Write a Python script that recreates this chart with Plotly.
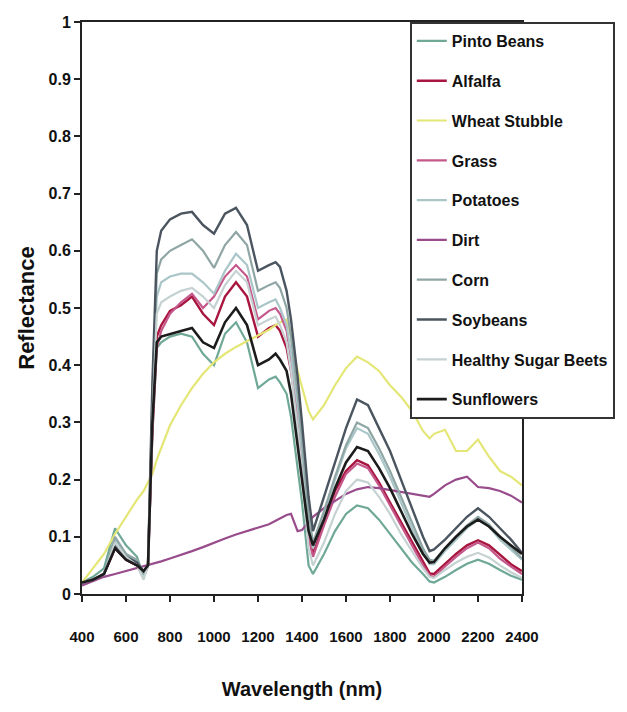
import plotly.graph_objects as go

wavelength = [400, 450, 500, 550, 600, 650, 680, 700, 720, 740, 760, 800, 850, 900, 950, 1000,
              1050, 1100, 1150, 1200, 1250, 1280, 1300, 1330, 1350, 1380, 1400, 1430, 1450, 1500,
              1550, 1600, 1650, 1700, 1750, 1800, 1850, 1900, 1950, 1980, 2000, 2050, 2100, 2150,
              2200, 2250, 2300, 2350, 2400]

pinto_beans = [0.02, 0.03, 0.045, 0.115, 0.085, 0.065, 0.03, 0.05, 0.28, 0.43, 0.44,
               0.45, 0.455, 0.45, 0.42, 0.40, 0.455, 0.475, 0.44, 0.36, 0.375,
               0.38, 0.37, 0.35, 0.31, 0.22, 0.16, 0.05, 0.035, 0.07, 0.11,
               0.14, 0.155, 0.15, 0.13, 0.105, 0.08, 0.055, 0.035, 0.022, 0.02,
               0.03, 0.042, 0.053, 0.06, 0.053, 0.042, 0.032, 0.025]
alfalfa = [0.02, 0.025, 0.035, 0.08, 0.06, 0.05, 0.03, 0.05, 0.3, 0.45, 0.47,
           0.495, 0.505, 0.52, 0.49, 0.47, 0.52, 0.545, 0.52, 0.45, 0.465,
           0.47, 0.46, 0.43, 0.39, 0.31, 0.24, 0.1, 0.07, 0.125, 0.18,
           0.215, 0.234, 0.225, 0.195, 0.16, 0.125, 0.09, 0.055, 0.036, 0.035,
           0.052, 0.07, 0.085, 0.094, 0.085, 0.068, 0.052, 0.04]
wheat_stubble = [0.02, 0.045, 0.07, 0.105, 0.135, 0.165, 0.18, 0.195, 0.21, 0.235, 0.255,
                 0.295, 0.33, 0.36, 0.385, 0.405, 0.42, 0.432, 0.442, 0.452, 0.462,
                 0.47, 0.475, 0.48, 0.45, 0.39, 0.36, 0.32, 0.305, 0.33, 0.365,
                 0.395, 0.415, 0.405, 0.39, 0.365, 0.345, 0.32, 0.285, 0.272, 0.28,
                 0.287, 0.25, 0.25, 0.27, 0.24, 0.215, 0.205, 0.19]
grass = [0.02, 0.025, 0.035, 0.08, 0.06, 0.05, 0.03, 0.05, 0.28, 0.43, 0.46,
         0.49, 0.51, 0.525, 0.50, 0.52, 0.555, 0.575, 0.555, 0.48, 0.495,
         0.50, 0.49, 0.46, 0.41, 0.32, 0.24, 0.1, 0.065, 0.12, 0.17,
         0.21, 0.228, 0.22, 0.19, 0.155, 0.12, 0.085, 0.05, 0.032, 0.03,
         0.048, 0.065, 0.08, 0.09, 0.08, 0.062, 0.048, 0.035]
potatoes = [0.02, 0.025, 0.035, 0.095, 0.07, 0.055, 0.03, 0.05, 0.33, 0.52, 0.545,
            0.555, 0.56, 0.56, 0.545, 0.525, 0.565, 0.595, 0.575, 0.5, 0.51,
            0.515, 0.5, 0.47, 0.42, 0.33, 0.25, 0.12, 0.08, 0.14, 0.2,
            0.255, 0.29, 0.28, 0.245, 0.205, 0.16, 0.115, 0.075, 0.052, 0.052,
            0.075, 0.095, 0.115, 0.13, 0.118, 0.095, 0.077, 0.06]
dirt = [0.015, 0.022, 0.03, 0.035, 0.04, 0.045, 0.048, 0.05, 0.052, 0.055, 0.057,
        0.062, 0.068, 0.075, 0.082, 0.09, 0.097, 0.104, 0.11, 0.116, 0.122,
        0.128, 0.132, 0.138, 0.14, 0.11, 0.112, 0.125, 0.135, 0.15, 0.162,
        0.175, 0.183, 0.187, 0.185, 0.182, 0.179, 0.176, 0.172, 0.17, 0.175,
        0.19, 0.2, 0.205, 0.187, 0.185, 0.18, 0.172, 0.16]
corn = [0.02, 0.025, 0.035, 0.1, 0.07, 0.06, 0.035, 0.05, 0.35, 0.56, 0.585,
        0.60, 0.61, 0.62, 0.60, 0.57, 0.61, 0.633, 0.61, 0.53, 0.54,
        0.545, 0.535, 0.50, 0.45, 0.35, 0.27, 0.14, 0.09, 0.145, 0.205,
        0.26, 0.30, 0.29, 0.255, 0.215, 0.17, 0.125, 0.08, 0.06, 0.058,
        0.08, 0.1, 0.12, 0.135, 0.122, 0.1, 0.082, 0.062]
soybeans = [0.02, 0.025, 0.035, 0.085, 0.065, 0.055, 0.04, 0.05, 0.37, 0.60, 0.635,
            0.655, 0.665, 0.668, 0.645, 0.63, 0.665, 0.675, 0.645, 0.565, 0.575,
            0.58, 0.572, 0.53, 0.48, 0.38, 0.30, 0.17, 0.11, 0.17, 0.23,
            0.29, 0.34, 0.33, 0.29, 0.25, 0.20, 0.15, 0.10, 0.075, 0.078,
            0.095, 0.115, 0.135, 0.15, 0.135, 0.115, 0.095, 0.072]
healthy_sugar_beets = [0.02, 0.025, 0.035, 0.09, 0.065, 0.05, 0.025, 0.05, 0.31, 0.49, 0.51,
                       0.52, 0.53, 0.535, 0.52, 0.5, 0.54, 0.565, 0.545, 0.47, 0.48,
                       0.485, 0.47, 0.44, 0.39, 0.29, 0.21, 0.08, 0.05, 0.09, 0.14,
                       0.18, 0.2, 0.195, 0.17, 0.14, 0.105, 0.075, 0.045, 0.03, 0.028,
                       0.042, 0.055, 0.065, 0.072, 0.064, 0.05, 0.038, 0.028]
sunflowers = [0.02, 0.025, 0.035, 0.08, 0.06, 0.05, 0.04, 0.05, 0.3, 0.44, 0.45,
              0.455, 0.46, 0.465, 0.44, 0.43, 0.475, 0.50, 0.47, 0.40, 0.41,
              0.42, 0.41, 0.39, 0.35, 0.26, 0.2, 0.11, 0.085, 0.13, 0.185,
              0.23, 0.257, 0.25, 0.22, 0.185, 0.145, 0.105, 0.07, 0.055, 0.056,
              0.08, 0.1, 0.118, 0.13, 0.118, 0.1, 0.085, 0.07]

series_names = ["Pinto Beans", "Alfalfa", "Wheat Stubble", "Grass", "Potatoes",
                "Dirt", "Corn", "Soybeans", "Healthy Sugar Beets", "Sunflowers"]
series_values = [pinto_beans, alfalfa, wheat_stubble, grass, potatoes,
                 dirt, corn, soybeans, healthy_sugar_beets, sunflowers]
series_colors = ["#6fa897", "#a8163f", "#e4e676", "#c4588a", "#aac6c8",
                 "#984c8c", "#8fa6a5", "#4b5560", "#c6d2d2", "#1c1c1c"]
series_widths = [2.2, 2.4, 2.2, 2.2, 2.2, 2.2, 2.2, 2.4, 2.2, 2.6]

x_tick_vals = [400, 600, 800, 1000, 1200, 1400, 1600, 1800, 2000, 2200, 2400]
y_tick_vals = [0, 0.1, 0.2, 0.3, 0.4, 0.5, 0.6, 0.7, 0.8, 0.9, 1]
y_tick_text = ["0", "0.1", "0.2", "0.3", "0.4", "0.5", "0.6", "0.7", "0.8", "0.9", "1"]

FONT = "Liberation Sans, Arial, sans-serif"

fig = go.Figure()
for name, vals, col, w in zip(series_names, series_values, series_colors, series_widths):
    fig.add_trace(go.Scatter(x=wavelength, y=vals, mode="lines", name=name,
                             legendgroup=name,
                             line=dict(color=col, width=w)))

fig.update_layout(
    width=619, height=704,
    margin=dict(l=74, r=101, t=14, b=118),
    paper_bgcolor="white", plot_bgcolor="white",
    font=dict(family=FONT, color="#111", size=15, weight="bold"),
    legend=dict(x=0.745, y=1.0, xanchor="left", yanchor="top",
                bgcolor="white", bordercolor="#333", borderwidth=2,
                font=dict(family=FONT, size=16, color="#111", weight="bold"),
                tracegroupgap=16, itemwidth=30),
    xaxis=dict(range=[400, 2400], tickvals=x_tick_vals, automargin=False,
               ticks="outside", ticklen=6, tickwidth=2, tickcolor="#222",
               showline=True, linewidth=2, linecolor="#222", mirror=True,
               showgrid=False, zeroline=False,
               ticklabelstandoff=22,
               tickfont=dict(family=FONT, size=15, weight="bold"),
               title=dict(text="Wavelength (nm)", standoff=38,
                          font=dict(family=FONT, size=20, weight="bold"))),
    yaxis=dict(range=[0, 1], tickvals=y_tick_vals, ticktext=y_tick_text, automargin=False,
               ticks="outside", ticklen=6, tickwidth=2, tickcolor="#222",
               showline=True, linewidth=2, linecolor="#222", mirror=True,
               showgrid=False, zeroline=False,
               tickfont=dict(family=FONT, size=16, weight="bold"),
               title=dict(text="Reflectance", standoff=8,
                          font=dict(family=FONT, size=22, weight="bold"))),
)

fig.write_html("out.html")
